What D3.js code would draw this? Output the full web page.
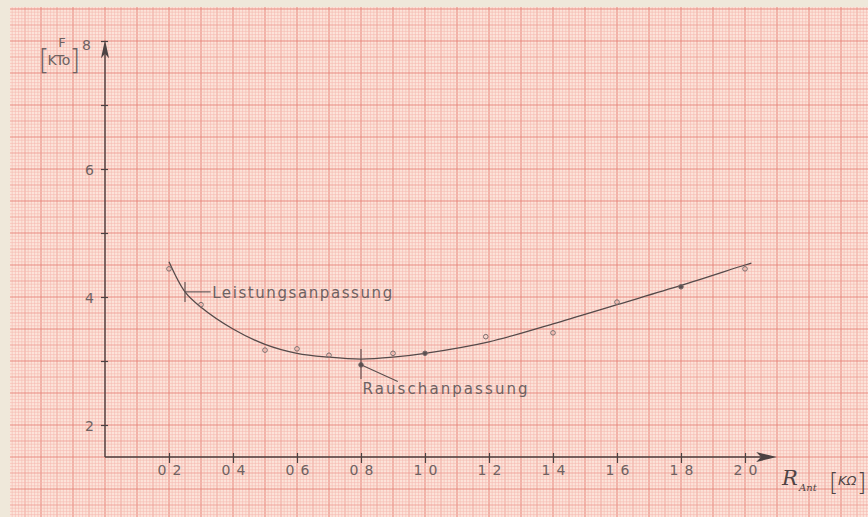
<!DOCTYPE html>
<html>
<head>
<meta charset="utf-8">
<script src="https://cdn.jsdelivr.net/npm/d3@7"></script>
<style>
  html, body { margin: 0; padding: 0; background: #efe8da; }
  svg { display: block; }
</style>
</head>
<body>
<div id="vis"></div>
<script>
// x: antenna resistance R_Ant in kOhm, y: noise figure F/kT0
const xTicks = [0.2, 0.4, 0.6, 0.8, 1.0, 1.2, 1.4, 1.6, 1.8, 2.0];
const yTicks = [2, 4, 6, 8];
const yMinorTicks = [3, 5, 7];

// measured points (small circles)
const measX = [0.2, 0.3, 0.5, 0.6, 0.7, 0.8, 0.9, 1.0, 1.19, 1.4, 1.6, 1.8, 2.0];
const measF = [4.44, 3.88, 3.17, 3.19, 3.09, 2.94, 3.12, 3.12, 3.38, 3.44, 3.92, 4.16, 4.44];
const filledPts = [0.8, 1.0, 1.8];

// hand drawn fitted curve
const curveX = [0.2, 0.25, 0.3, 0.4, 0.5, 0.6, 0.7, 0.8, 0.9, 1.0, 1.2, 1.4, 1.6, 1.8, 2.0, 2.02];
const curveF = [4.55, 4.08, 3.84, 3.5, 3.26, 3.12, 3.06, 3.03, 3.06, 3.12, 3.3, 3.58, 3.88, 4.18, 4.5, 4.53];

const width = 868;
const height = 517;

const svg = d3.select('#vis')
  .append('svg')
  .attr('width', width)
  .attr('height', height)
  .attr('viewBox', [0, 0, width, height]);

const x = d3.scaleLinear().domain([0, 2]).range([105, 745]);
const y = d3.scaleLinear().domain([2, 8]).range([425, 41]);

// graph paper: 1 mm = 3.2 px, bold every 10 mm (aligned on the axes)
const paper = { x0: 10, y0: 7 };
const mmX = d3.scaleLinear().domain([0, 10]).range([x(0), x(0) + 32]);
const mmY = d3.scaleLinear().domain([0, 10]).range([y(1.5), y(1.5) - 32]);

svg.append('rect')
  .attr('x', paper.x0)
  .attr('y', paper.y0)
  .attr('width', width - paper.x0)
  .attr('height', height - paper.y0)
  .attr('fill', '#fce4da');

const grid = svg.append('g');
const vLines = d3.range(Math.ceil(mmX.invert(paper.x0)), Math.floor(mmX.invert(width)) + 1);
const hLines = d3.range(Math.ceil(mmY.invert(height)), Math.floor(mmY.invert(paper.y0)) + 1);
const lineStyle = (mm) => {
  if (mm % 10 === 0) return { c: '#e88a80', w: 1.1 };
  if (mm % 5 === 0) return { c: '#ee9f96', w: 0.9 };
  return { c: '#f5b9b0', w: 0.6 };
};
// fine lines first, bold on top
[vLines, hLines].forEach((lines, k) => {
  const sorted = lines.slice().sort((a, b) => (a % 5 === 0) - (b % 5 === 0) || (a % 10 === 0) - (b % 10 === 0));
  grid.selectAll(null)
    .data(sorted)
    .enter()
    .append('line')
    .attr('x1', (d) => k === 0 ? mmX(d) : paper.x0)
    .attr('x2', (d) => k === 0 ? mmX(d) : width)
    .attr('y1', (d) => k === 0 ? paper.y0 : mmY(d))
    .attr('y2', (d) => k === 0 ? height : mmY(d))
    .attr('stroke', (d) => lineStyle(d).c)
    .attr('stroke-width', (d) => lineStyle(d).w);
});

const ink = '#4b4242';
const pencil = '#6e6262';
const font = '"DejaVu Sans", sans-serif';

// axes with arrow heads
const axes = svg.append('g').attr('stroke', ink).attr('fill', 'none');
axes.append('line')
  .attr('x1', x(0)).attr('y1', y(1.5))
  .attr('x2', x(2.08)).attr('y2', y(1.5))
  .attr('stroke-width', 1.4);
axes.append('line')
  .attr('x1', x(0)).attr('y1', y(1.5))
  .attr('x2', x(0)).attr('y2', y(7.8))
  .attr('stroke-width', 1.4);

svg.append('path')
  .attr('d', `M${x(2.1)},${y(1.5)}L${x(2.035)},${y(1.5) - 5}L${x(2.05)},${y(1.5)}L${x(2.035)},${y(1.5) + 5}Z`)
  .attr('fill', ink);
svg.append('path')
  .attr('d', `M${x(0)},${y(8.02)}L${x(0) - 4},${y(7.73)}L${x(0)},${y(7.8)}L${x(0) + 4},${y(7.73)}Z`)
  .attr('fill', ink);

// x ticks and labels (drafting style "0 2")
const xAxis = svg.append('g')
  .attr('transform', `translate(0,${y(1.5)})`)
  .call(d3.axisBottom(x).tickValues(xTicks).tickSize(6).tickFormat(''));
xAxis.select('.domain').remove();
xAxis.selectAll('.tick line')
  .attr('y1', -4)
  .attr('stroke', ink)
  .attr('stroke-width', 1.2);
const xLab = xAxis.selectAll('.tick');
xLab.append('text')
  .attr('x', -3).attr('y', 18)
  .attr('text-anchor', 'end')
  .text((d) => Math.floor(d + 1e-9));
xLab.append('text')
  .attr('x', 3).attr('y', 18)
  .attr('text-anchor', 'start')
  .text((d) => Math.round((d % 1) * 10) % 10);
xAxis.selectAll('text')
  .attr('fill', pencil)
  .attr('font-family', font)
  .attr('font-size', 14);

// y ticks and labels
const yAxis = svg.append('g')
  .attr('transform', `translate(${x(0)},0)`)
  .call(d3.axisLeft(y).tickValues(yTicks.concat(yMinorTicks)).tickSize(4).tickFormat(''));
yAxis.select('.domain').remove();
yAxis.selectAll('.tick line')
  .attr('x1', 3)
  .attr('stroke', ink)
  .attr('stroke-width', 1.2);
yAxis.selectAll('.tick')
  .filter((d) => yTicks.includes(d))
  .append('text')
  .attr('x', (d) => d === 8 ? -14 : -11)
  .attr('y', (d) => d === 8 ? 8 : 5)
  .attr('text-anchor', 'end')
  .attr('fill', pencil)
  .attr('font-family', font)
  .attr('font-size', 14)
  .text((d) => d);

// y unit label [F / KTo]
const yUnit = svg.append('g')
  .attr('fill', pencil)
  .attr('font-family', font);
yUnit.append('text').attr('x', 62).attr('y', 47).attr('text-anchor', 'middle').attr('font-size', 13).text('F');
yUnit.append('text').attr('x', 59).attr('y', 65).attr('text-anchor', 'middle').attr('font-size', 14).text('KTo');
yUnit.append('text').attr('x', 44).attr('y', 70).attr('text-anchor', 'middle').attr('font-size', 28).attr('font-weight', 200).text('[');
yUnit.append('text').attr('x', 75).attr('y', 70).attr('text-anchor', 'middle').attr('font-size', 28).attr('font-weight', 200).text(']');

// x unit label R_Ant [KΩ]
const xUnit = svg.append('g').attr('fill', '#4f4444');
xUnit.append('text')
  .attr('x', 782).attr('y', 485)
  .attr('font-family', '"DejaVu Serif", serif')
  .attr('font-style', 'italic')
  .attr('font-size', 21)
  .text('R');
xUnit.append('text')
  .attr('x', 799).attr('y', 491)
  .attr('font-family', '"DejaVu Serif", serif')
  .attr('font-style', 'italic')
  .attr('font-size', 10)
  .text('Ant');
xUnit.append('text')
  .attr('x', 829).attr('y', 491)
  .attr('font-family', font)
  .attr('font-size', 24)
  .attr('font-weight', 200)
  .text('[');
xUnit.append('text')
  .attr('x', 838).attr('y', 485)
  .attr('font-family', font)
  .attr('font-size', 13)
  .attr('font-style', 'italic')
  .text('KΩ');
xUnit.append('text')
  .attr('x', 857).attr('y', 491)
  .attr('font-family', font)
  .attr('font-size', 24)
  .attr('font-weight', 200)
  .text(']');

// fitted curve
const line = d3.line()
  .x((d) => x(d[0]))
  .y((d) => y(d[1]))
  .curve(d3.curveCatmullRom.alpha(0.5));

svg.append('path')
  .datum(d3.zip(curveX, curveF))
  .attr('d', line)
  .attr('fill', 'none')
  .attr('stroke', '#554a4a')
  .attr('stroke-width', 1.3);

// measured points
svg.selectAll('.meas')
  .data(d3.zip(measX, measF))
  .enter()
  .append('circle')
  .attr('class', 'meas')
  .attr('cx', (d) => x(d[0]))
  .attr('cy', (d) => y(d[1]))
  .attr('r', 2.3)
  .attr('fill', (d) => filledPts.includes(d[0]) ? '#5a4f4f' : 'none')
  .attr('stroke', '#7a6c6c')
  .attr('stroke-width', 1);

// annotations
const notes = svg.append('g').attr('stroke', '#5a4f4f').attr('stroke-width', 1.1);
// Leistungsanpassung at 0.25
notes.append('line')
  .attr('x1', x(0.25)).attr('y1', y(4.08) - 10)
  .attr('x2', x(0.25)).attr('y2', y(4.08) + 10);
notes.append('line')
  .attr('x1', x(0.25)).attr('y1', y(4.08))
  .attr('x2', x(0.33)).attr('y2', y(4.08));
// Rauschanpassung at 0.8
notes.append('line')
  .attr('x1', x(0.8)).attr('y1', y(3.03) - 10)
  .attr('x2', x(0.8)).attr('y2', y(3.03) + 20);
notes.append('line')
  .attr('x1', x(0.8)).attr('y1', y(2.94))
  .attr('x2', x(0.915)).attr('y2', y(2.68));

svg.append('text')
  .attr('x', x(0.335)).attr('y', y(4.08) + 6)
  .attr('textLength', 180)
  .attr('lengthAdjust', 'spacing')
  .attr('fill', pencil)
  .attr('font-family', font)
  .attr('font-size', 15)
  .text('Leistungsanpassung');

svg.append('text')
  .attr('x', x(0.805)).attr('y', 394)
  .attr('textLength', 165)
  .attr('lengthAdjust', 'spacing')
  .attr('fill', pencil)
  .attr('font-family', font)
  .attr('font-size', 15)
  .text('Rauschanpassung');
</script>
</body>
</html>
